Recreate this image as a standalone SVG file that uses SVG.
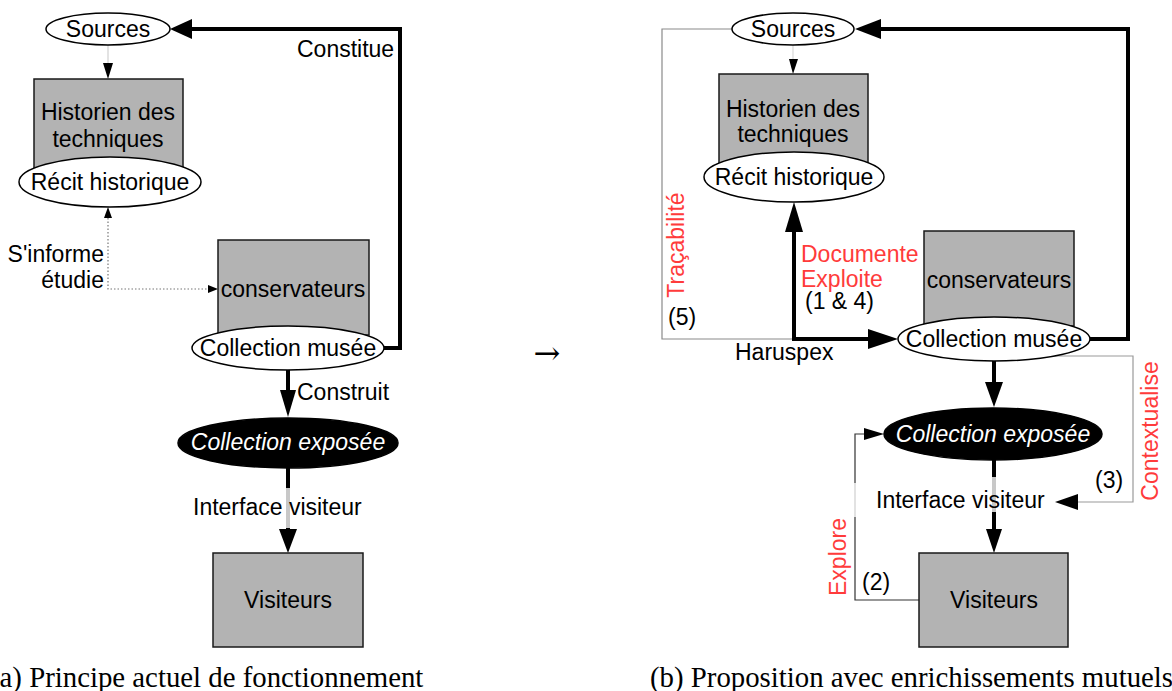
<svg xmlns="http://www.w3.org/2000/svg" width="1172" height="691" viewBox="0 0 1172 691">
<style>
text{font-family:"Liberation Sans",Arial,sans-serif;font-size:23px;fill:#000}
.mid{text-anchor:middle}
.end{text-anchor:end}
.red{fill:#ff3b3b}
.wh{fill:#fff;font-style:italic}
.cap{font-family:"Liberation Serif","Times New Roman",serif;font-size:28.8px}
.box{fill:#b3b3b3;stroke:#1a1a1a;stroke-width:1.5}
.ell{fill:#fff;stroke:#000;stroke-width:1.5}
.blk{fill:#000;stroke:#000;stroke-width:1.5}
.thick{fill:none;stroke:#000;stroke-width:4}
.thin{fill:none;stroke-width:1.2}
.ah{fill:#000}
</style>
<rect width="1172" height="691" fill="#fff"/>

<g id="connectors">
  <!-- left diagram -->
  <line class="thin" x1="108" y1="45" x2="108" y2="64" stroke="#d0d0d0"/>
  <polygon class="ah" points="103,63 113,63 108,79"/>
  <polyline class="thick" points="384,348 400,348 400,29 190,29"/>
  <polygon class="ah" points="192,19 192,39 170,29"/>
  <polyline points="108,218 108,289 209,289" fill="none" stroke="#777" stroke-width="1.2" stroke-dasharray="1.5,2"/>
  <polygon class="ah" points="104,218 112,218 108,207"/>
  <polygon class="ah" points="208,285 208,293 218,289"/>
  <line class="thick" x1="288" y1="370" x2="288" y2="392"/>
  <polygon class="ah" points="280,390 296,390 288,417"/>
  <line class="thick" x1="288" y1="468" x2="288" y2="488"/>
  <line x1="288" y1="488" x2="288" y2="528" stroke="#c8c8c8" stroke-width="4"/>
  <line class="thick" x1="288" y1="528" x2="288" y2="531"/>
  <polygon class="ah" points="279,529 297,529 288,553"/>
  <text x="297" y="57">Constitue</text>
  <text class="end" x="104" y="262">S'informe</text>
  <text class="end" x="104" y="288">étudie</text>
  <text x="297" y="400">Construit</text>
  <text x="193" y="515">Interface visiteur</text>

  <!-- right diagram -->
  <line class="thin" x1="793" y1="45" x2="793" y2="60" stroke="#d8d8d8"/>
  <polygon class="ah" points="789,59 798,59 793,74"/>
  <polyline class="thin" points="733,29 662,29 662,339 794,339" stroke="#8a8a8a"/>
  <polyline class="thick" points="794,230 794,339 870,339"/>
  <polygon class="ah" points="785,232 803,232 794,202"/>
  <polygon class="ah" points="868,329 868,349 898,339"/>
  <polyline class="thick" points="1088,339 1128,339 1128,29 878,29"/>
  <polygon class="ah" points="881,19 881,39 855,29"/>
  <line class="thick" x1="994" y1="360" x2="994" y2="384"/>
  <polygon class="ah" points="985,382 1003,382 994,407"/>
  <line class="thick" x1="994" y1="458" x2="994" y2="477"/>
  <line x1="994" y1="477" x2="994" y2="512" stroke="#c8c8c8" stroke-width="4"/>
  <line class="thick" x1="994" y1="512" x2="994" y2="531"/>
  <polygon class="ah" points="986,529 1002,529 994,553"/>
  <polyline class="thin" points="1040,356 1133,356 1133,502 1076,502" stroke="#9a9a9a"/>
  <polygon class="ah" points="1078,494 1078,510 1055,502"/>
  <polyline class="thin" points="919,600 855,600 855,517" stroke="#333"/>
  <line class="thin" x1="855" y1="517" x2="855" y2="483" stroke="#cfcfcf"/>
  <polyline class="thin" points="855,483 855,434 866,434" stroke="#333"/>
  <polygon class="ah" points="864,428 864,440 884,434"/>
  <text class="red" x="801" y="262">Documente</text>
  <text class="red" x="801" y="287">Exploite</text>
  <text x="805" y="309">(1 &amp; 4)</text>
  <text x="668" y="325">(5)</text>
  <text x="735" y="360">Haruspex</text>
  <text class="red mid" transform="translate(684,245) rotate(-90)">Traçabilité</text>
  <text class="red mid" transform="translate(1158,431) rotate(-90)">Contextualise</text>
  <text class="red mid" transform="translate(846,557) rotate(-90)">Explore</text>
  <text x="1095" y="488">(3)</text>
  <text x="862" y="590">(2)</text>
  <text x="876" y="508">Interface visiteur</text>
</g>

<!-- left nodes -->
<g id="a-sources"><ellipse class="ell" cx="108" cy="29" rx="62" ry="16"/><text class="mid" x="108" y="37">Sources</text></g>
<g id="a-historien"><rect class="box" x="34" y="79" width="149" height="91"/><text class="mid" x="108" y="120">Historien des</text><text class="mid" x="108" y="147">techniques</text></g>
<g id="a-recit"><ellipse class="ell" cx="110" cy="182" rx="91" ry="25"/><text class="mid" x="110" y="190">Récit historique</text></g>
<g id="a-conservateurs"><rect class="box" x="218" y="240" width="151" height="95"/><text class="mid" x="293" y="297">conservateurs</text></g>
<g id="a-collection"><ellipse class="ell" cx="288" cy="348" rx="96" ry="22"/><text class="mid" x="288" y="356">Collection musée</text></g>
<g id="a-exposee"><ellipse class="blk" cx="288" cy="443" rx="110" ry="25"/><text class="mid wh" x="288" y="450">Collection exposée</text></g>
<g id="a-visiteurs"><rect class="box" x="213" y="553" width="150" height="94"/><text class="mid" x="288" y="608">Visiteurs</text></g>
<text class="cap" x="-10" y="687">(a) Principe actuel de fonctionnement</text>

<text x="547" y="364" class="mid" style="font-family:'DejaVu Serif',serif;font-size:32px">→</text>

<!-- right nodes -->
<g id="b-sources"><ellipse class="ell" cx="793" cy="29" rx="61" ry="16"/><text class="mid" x="793" y="37">Sources</text></g>
<g id="b-historien"><rect class="box" x="719" y="74" width="149" height="95"/><text class="mid" x="793" y="117">Historien des</text><text class="mid" x="793" y="142">techniques</text></g>
<g id="b-recit"><ellipse class="ell" cx="794" cy="177" rx="90" ry="25"/><text class="mid" x="794" y="185">Récit historique</text></g>
<g id="b-conservateurs"><rect class="box" x="924" y="231" width="150" height="95"/><text class="mid" x="999" y="288">conservateurs</text></g>
<g id="b-collection"><ellipse class="ell" cx="994" cy="339" rx="96" ry="22"/><text class="mid" x="994" y="347">Collection musée</text></g>
<g id="b-exposee"><ellipse class="blk" cx="993" cy="434" rx="109" ry="26"/><text class="mid wh" x="993" y="442">Collection exposée</text></g>
<g id="b-visiteurs"><rect class="box" x="919" y="553" width="149" height="94"/><text class="mid" x="994" y="608">Visiteurs</text></g>
<text class="cap" x="650" y="687">(b) Proposition avec enrichissements mutuels</text>
</svg>
